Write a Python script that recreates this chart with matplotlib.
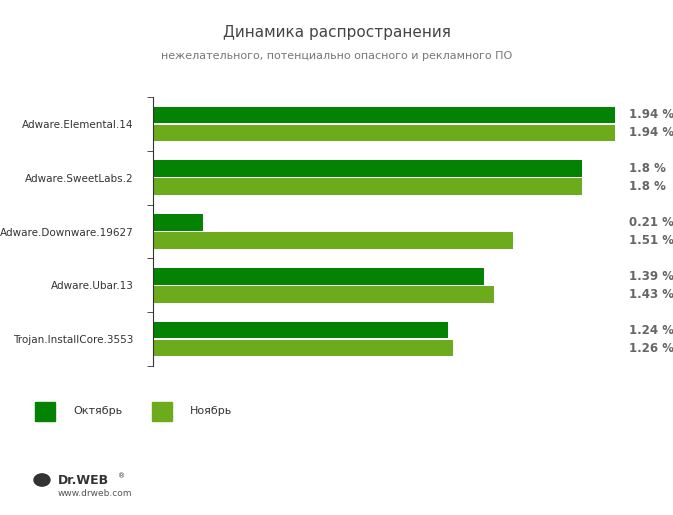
import numpy as np
import matplotlib.pyplot as plt

categories = ['Adware.Elemental.14', 'Adware.SweetLabs.2', 'Adware.Downware.19627',
              'Adware.Ubar.13', 'Trojan.InstallCore.3553']
october = [1.94, 1.8, 0.21, 1.39, 1.24]
november = [1.94, 1.8, 1.51, 1.43, 1.26]
series_names = ['Октябрь', 'Ноябрь']

c_oct = '#038203'
c_nov = '#6cab1b'
W, H = 673, 515

fig = plt.figure(figsize=(W / 100, H / 100), dpi=100)
ax = fig.add_axes([153 / W, 1 - 366 / H, (615 - 153) / W, (366 - 97) / H])

y = np.arange(len(categories))
ax.barh(y - 0.167, october, height=0.31, color=c_oct)
ax.barh(y + 0.167, november, height=0.31, color=c_nov)
ax.set_xlim(0, 1.94)
ax.set_ylim(4.5, -0.5)

for i in range(len(categories)):
    for off, v in ((-0.167, october[i]), (0.167, november[i])):
        ax.text(2.0, i + off, f'{v:g} %', va='center', ha='left', fontsize=8.5,
                fontweight='bold', color='#666666', clip_on=False)

ax.set_yticks(y)
ax.set_yticklabels(categories, fontsize=7.5, color='#333333')
ax.tick_params(axis='y', length=0, pad=14)
ax.set_yticks(np.arange(-0.5, 5, 1), minor=True)
ax.tick_params(axis='y', which='minor', length=4, color='#333333')
ax.set_xticks([])
for s in ('top', 'right', 'bottom'):
    ax.spines[s].set_visible(False)
ax.spines['left'].set_color('#333333')

fig.text(337 / W, 1 - 32 / H, 'Динамика распространения', ha='center', va='center',
         fontsize=11, color='#444444')
fig.text(337 / W, 1 - 56 / H, 'нежелательного, потенциально опасного и рекламного ПО',
         ha='center', va='center', fontsize=8, color='#777777')

# legend
for x0, col, name in ((35, c_oct, series_names[0]), (152, c_nov, series_names[1])):
    fig.patches.append(plt.Rectangle((x0 / W, 1 - 421 / H), 20 / W, 19 / H,
                                     transform=fig.transFigure, color=col))
    fig.text((x0 + 38) / W, 1 - 411 / H, name, va='center', fontsize=8, color='#333333')

# logo
fig.text(58 / W, 1 - 480 / H, 'Dr.WEB', va='center', fontsize=9, fontweight='bold', color='#333333')
fig.text(118 / W, 1 - 476 / H, '®', va='center', fontsize=5, color='#333333')
fig.text(58 / W, 1 - 494 / H, 'www.drweb.com', va='center', fontsize=6.5, color='#555555')
fig.patches.append(plt.Circle((42 / W, 1 - 480 / H), 8 / W, transform=fig.transFigure,
                              color='#333333'))

fig.savefig('out.png', dpi=100)
